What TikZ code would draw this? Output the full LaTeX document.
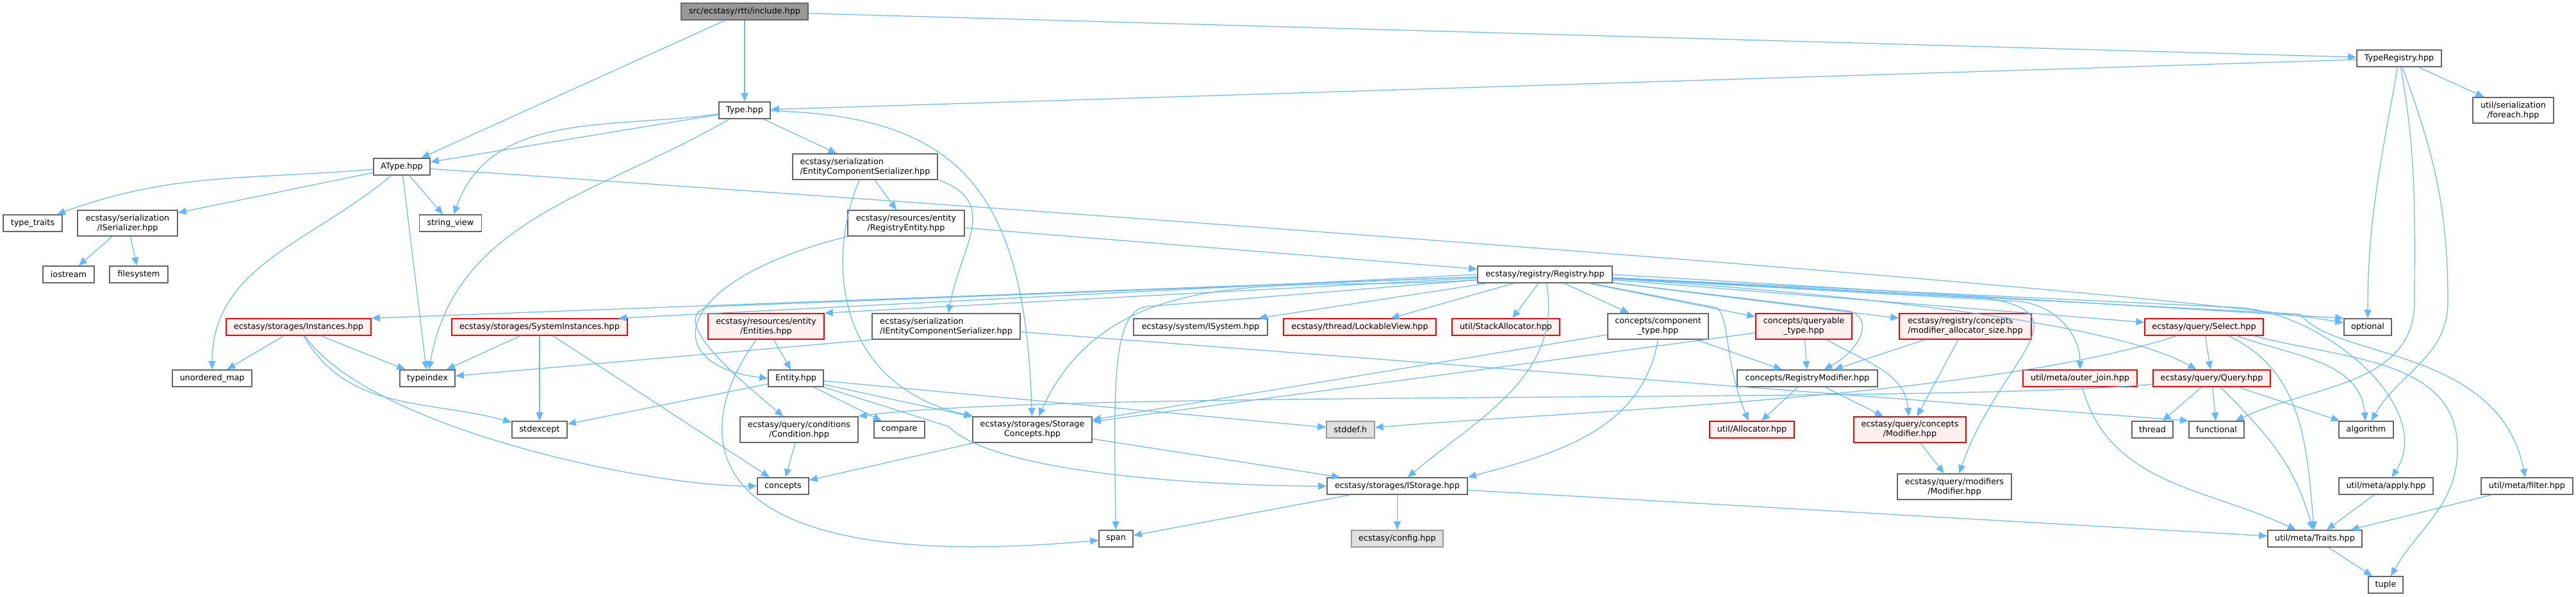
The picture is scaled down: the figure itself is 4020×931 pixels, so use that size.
\documentclass[tikz,border=0pt]{standalone}
\usepackage{fontspec}
\setmainfont{DejaVu Sans}
\usetikzlibrary{arrows.meta}
\definecolor{edgeblue}{HTML}{63B8FF}
\definecolor{grey40}{HTML}{666666}
\definecolor{grey60}{HTML}{999999}
\definecolor{redfill}{HTML}{FFF0F0}
\definecolor{sysfill}{HTML}{E0E0E0}
\begin{document}
\begin{tikzpicture}[x=1pt, y=1pt,
	hdr/.style={draw=grey40, fill=white, line width=1.6pt, inner sep=0pt, minimum height=26pt, align=center, font=\fontsize{12.8}{15}\selectfont},
	tall/.style={minimum height=40pt},
	hdrred/.style={hdr, draw=red, fill=redfill},
	hdrsys/.style={hdr, draw=grey60, fill=sysfill},
	hdrroot/.style={hdr, fill=grey60},
	dep/.style={draw=edgeblue, line width=1.2pt, -{Triangle[length=13pt, width=11pt]}}]
			\useasboundingbox (0,0) rectangle (4020,-931);

			\node[hdrroot, minimum width=198] (root) at (1162,-18) {src/ecstasy/rtti/include.hpp};
			\node[hdr, minimum width=80] (type) at (1162,-172) {Type.hpp};
			\node[hdr, minimum width=132] (treg) at (3744,-91) {TypeRegistry.hpp};
			\node[hdr, tall, minimum width=126] (foreach) at (3922,-172) {util/serialization\\/foreach.hpp};
			\node[hdr, minimum width=88] (atype) at (627,-260) {AType.hpp};
			\node[hdr, tall, minimum width=226, align=left] (ecser) at (1350,-260) {ecstasy/serialization\\/EntityComponentSerializer.hpp};
			\node[hdr, minimum width=92] (ttraits) at (51,-348) {type\_traits};
			\node[hdr, tall, minimum width=156] (iser) at (199,-348) {ecstasy/serialization\\/ISerializer.hpp};
			\node[hdr, minimum width=97] (sview) at (703,-348) {string\_view};
			\node[hdr, tall, minimum width=182] (regent) at (1414,-348) {ecstasy/resources/entity\\/RegistryEntity.hpp};
			\node[hdr, minimum width=80] (iostr) at (107,-428) {iostream};
			\node[hdr, minimum width=91] (fsys) at (216.5,-428) {filesystem};
			\node[hdr, minimum width=210] (reg) at (2411,-428) {ecstasy/registry/Registry.hpp};

			\node[hdrred, minimum width=226] (inst) at (466,-510) {ecstasy/storages/Instances.hpp};
			\node[hdrred, minimum width=274] (sysinst) at (842,-510) {ecstasy/storages/SystemInstances.hpp};
			\node[hdrred, tall, minimum width=181] (ents) at (1195.5,-509) {ecstasy/resources/entity\\/Entities.hpp};
			\node[hdr, tall, minimum width=231, align=left] (iecser) at (1476.5,-509) {ecstasy/serialization\\/IEntityComponentSerializer.hpp};
			\node[hdr, minimum width=209] (isys) at (1873.5,-510) {ecstasy/system/ISystem.hpp};
			\node[hdrred, minimum width=238] (lockv) at (2122,-510) {ecstasy/thread/LockableView.hpp};
			\node[hdrred, minimum width=168] (stalloc) at (2350,-510) {util/StackAllocator.hpp};
			\node[hdr, tall, minimum width=157] (comptype) at (2587.5,-509) {concepts/component\\\_type.hpp};
			\node[hdrred, tall, minimum width=150] (qtype) at (2815,-509) {concepts/queryable\\\_type.hpp};
			\node[hdrred, tall, minimum width=206, align=left] (modalloc) at (3067,-509) {ecstasy/registry/concepts\\/modifier\_allocator\_size.hpp};
			\node[hdrred, minimum width=185] (select) at (3439.5,-510) {ecstasy/query/Select.hpp};
			\node[hdr, minimum width=74] (optional) at (3695,-510) {optional};

			\node[hdr, minimum width=124] (umap) at (331,-590) {unordered\_map};
			\node[hdr, minimum width=86] (tindex) at (667,-590) {typeindex};
			\node[hdr, minimum width=86] (ent) at (1242,-590) {Entity.hpp};
			\node[hdr, minimum width=219] (regmod) at (2820.5,-590) {concepts/RegistryModifier.hpp};
			\node[hdrred, minimum width=178] (ojoin) at (3246,-590) {util/meta/outer\_join.hpp};
			\node[hdrred, minimum width=183] (query) at (3451.5,-590) {ecstasy/query/Query.hpp};

			\node[hdr, minimum width=86] (stdexc) at (842,-670) {stdexcept};
			\node[hdr, tall, minimum width=184] (cond) at (1247,-670) {ecstasy/query/conditions\\/Condition.hpp};
			\node[hdr, minimum width=79] (compare) at (1403.5,-670) {compare};
			\node[hdr, tall, minimum width=186] (storc) at (1611,-670) {ecstasy/storages/Storage\\Concepts.hpp};
			\node[hdrsys, minimum width=75] (stddef) at (2107.5,-670) {stddef.h};
			\node[hdrred, minimum width=132] (alloc) at (2734,-670) {util/Allocator.hpp};
			\node[hdrred, tall, minimum width=175] (qcmod) at (2980.5,-670) {ecstasy/query/concepts\\/Modifier.hpp};
			\node[hdr, minimum width=64] (thread) at (3359,-670) {thread};
			\node[hdr, minimum width=86] (functional) at (3459,-670) {functional};
			\node[hdr, minimum width=85] (algorithm) at (3692.5,-670) {algorithm};

			\node[hdr, minimum width=80] (concepts) at (1222,-758) {concepts};
			\node[hdr, minimum width=219] (istor) at (2180.5,-758) {ecstasy/storages/IStorage.hpp};
			\node[hdr, tall, minimum width=178] (qmmod) at (3050,-759) {ecstasy/query/modifiers\\/Modifier.hpp};
			\node[hdr, minimum width=147] (apply) at (3723.5,-758) {util/meta/apply.hpp};
			\node[hdr, minimum width=143] (filter) at (3943.5,-758) {util/meta/filter.hpp};

			\node[hdr, minimum width=53] (span) at (1741.5,-840) {span};
			\node[hdrsys, minimum width=143] (config) at (2180.5,-840) {ecstasy/config.hpp};
			\node[hdr, minimum width=147] (traits) at (3612.5,-840) {util/meta/Traits.hpp};
			\node[hdr, minimum width=54] (tuple) at (3723,-912) {tuple};

			\draw[dep] (root) to (atype);
			\draw[dep] (root) to (type);
			\draw[dep] (root) to (treg);

			\draw[dep] (treg) to (type);
			\draw[dep] (treg) to (foreach);
			\draw[dep] (treg) to[out=-100, in=90] (optional);
			\draw[dep] (treg) to[out=-80, in=90] (3768,-470) to[out=-90, in=25] (functional);
			\draw[dep] (treg) to[out=-70, in=90] (3820,-470) to[out=-90, in=60] (algorithm);

			\draw[dep] (type) to (atype);
			\draw[dep] (type) to[out=188, in=70] (sview);
			\draw[dep] (type) to[out=-150, in=80] (tindex);
			\draw[dep] (type) to (ecser);
			\draw[dep] (type) .. controls (1500,-180) and (1600,-300) .. (storc);

			\draw[dep] (atype) to[out=185, in=20] (ttraits);
			\draw[dep] (atype) to (iser);
			\draw[dep] (atype) to[out=-140, in=90] (umap);
			\draw[dep] (atype) to (tindex);
			\draw[dep] (atype) to (sview);
			\draw[dep] (atype) .. controls (1022,-288) and (3311,-442) .. (optional);

			\draw[dep] (iser) to (iostr);
			\draw[dep] (iser) to (fsys);

			\draw[dep] (ecser) to (regent);
			\draw[dep] (ecser.-10) to[out=-20, in=80, looseness=1.3] (iecser);
			\draw[dep] (ecser) .. controls (1290,-400) and (1300,-600) .. (storc);

			\draw[dep] (regent) to (reg);
			\draw[dep] (regent.south west) .. controls (1040,-440) and (1030,-570) .. (ent.west);

			\draw[dep] (reg) to (inst.north east);
			\draw[dep] (reg.west) to ([xshift=-15pt]sysinst.north east);
			\draw[dep] (reg) to (ents.north east);
			\draw[dep] (reg) -- (1110,-478) to[out=190, in=140] (cond);
			\draw[dep] (reg) .. controls (2025,-458) and (1739,-395) .. (storc);
			\draw[dep] (reg) to (isys);
			\draw[dep] (reg) -- (1790,-478) .. controls (1735,-485) and (1738,-600) .. (span);
			\draw[dep] (reg) to (lockv);
			\draw[dep] (reg) to (stalloc);
			\draw[dep] (reg) to (comptype);
			\draw[dep] (reg) to[out=-80, in=40] (istor);
			\draw[dep] (reg) to (qtype);
			\draw[dep] (reg) to (modalloc);
			\draw[dep] (reg) -- (2885,-485) .. controls (2925,-495) and (2905,-545) .. (regmod);
			\draw[dep] (reg) -- (2680,-480) .. controls (2700,-500) and (2690,-560) .. (alloc);
			\draw[dep] (reg) -- (3100,-465) .. controls (3260,-490) and (3120,-560) .. (qmmod);
			\draw[dep] (reg) -- (3150,-470) to[out=-5, in=90] (ojoin);
			\draw[dep] (reg) to (select);
			\draw[dep] (reg) .. controls (2697,-446) and (3272,-487) .. (query);
			\draw[dep] (reg.east) to (optional.north west);
			\draw[dep] (reg) -- (3500,-480) .. controls (3640,-495) and (3800,-640) .. (apply);
			\draw[dep] (reg) -- (3590,-490) .. controls (3640,-560) and (3900,-540) .. (filter);

			\draw[dep] (inst) to (umap);
			\draw[dep] (inst) to (tindex);
			\draw[dep] (inst) to[out=-60, in=165] (stdexc);
			\draw[dep] (inst) to[out=-55, in=180, looseness=0.6] (concepts);

			\draw[dep] (sysinst) to (tindex);
			\draw[dep] (sysinst) to (stdexc);
			\draw[dep] (sysinst) to (concepts);

			\draw[dep] (ents) to (ent);
			\draw[dep] (ents) .. controls (1070,-680) and (1080,-900) .. (span);

			\draw[dep] (ent) to (stdexc);
			\draw[dep] (ent) to (compare);
			\draw[dep] (ent) to (storc);
			\draw[dep] (ent) -- (1480,-665) to[out=-45, in=180, looseness=0.5] (istor);
			\draw[dep] (ent) to (stddef);

			\draw[dep] (cond) to (concepts);

			\draw[dep] (iecser.south west) to (tindex);
			\draw[dep] (iecser) to (functional.north west);

			\draw[dep] (storc) to (concepts);
			\draw[dep] (storc) to (istor);

			\draw[dep] (comptype) to (storc);
			\draw[dep] (comptype.south) to[out=-100, in=15] (istor.north east);
			\draw[dep] (comptype) to (regmod);

			\draw[dep] (qtype) to (storc);
			\draw[dep] (qtype) to (regmod);
			\draw[dep] (qtype) to[out=-30, in=95] (qcmod);

			\draw[dep] (modalloc) to (regmod);
			\draw[dep] (modalloc) to (qcmod);

			\draw[dep] (regmod) to (alloc);
			\draw[dep] (regmod) to (qcmod);
			\draw[dep] (qcmod) to (qmmod);

			\draw[dep] (istor) to (config);
			\draw[dep] (istor) to (span);
			\draw[dep] (istor) to (traits);

			\draw[dep] (ojoin) to[out=-75, in=155] (traits);

			\draw[dep] (select) to (query);
			\draw[dep] (select) .. controls (3097,-621) and (2433,-642) .. (stddef);
			\draw[dep] (select.-20) to[out=-25, in=95] (traits);
			\draw[dep] (select.-15) to[out=-20, in=95] (algorithm);
			\draw[dep] (select.-10) to[out=-15, in=90] (3835,-700) to[out=-90, in=60] (tuple);

			\draw[dep] (query) .. controls (3045,-630) and (1652,-607) .. (cond.north east);
			\draw[dep] (query) to (thread);
			\draw[dep] (query) to (functional);
			\draw[dep] (query) to (algorithm);
			\draw[dep] (query.-45) to[out=-45, in=105] (traits);

			\draw[dep] (apply) to (traits);
			\draw[dep] (filter) to (traits);
			\draw[dep] (traits) to (tuple);
		\end{tikzpicture}
\end{document}
